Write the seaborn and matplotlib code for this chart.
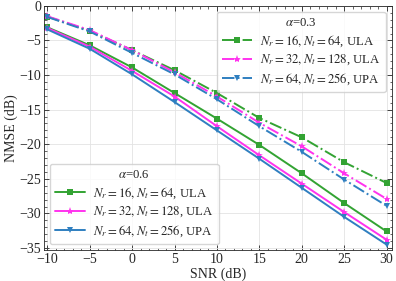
import numpy as np
import pandas as pd
import matplotlib
matplotlib.use("Agg")
import matplotlib.pyplot as plt
import seaborn as sns

snr = [-10, -5, 0, 5, 10, 15, 20, 25, 30]
labels = [r"$N_r = 16, N_t = 64$, ULA", r"$N_r = 32, N_t = 128$, ULA", r"$N_r = 64, N_t = 256$, UPA"]

# alpha = 0.3 (dash-dot)
a03_16 = [-1.55, -3.6, -6.4, -9.3, -12.6, -16.2, -19.0, -22.6, -25.6]
a03_32 = [-1.5, -3.5, -6.4, -9.6, -13.1, -16.9, -20.3, -24.2, -27.9]
a03_64 = [-1.6, -3.7, -6.8, -9.9, -13.5, -17.4, -21.1, -25.1, -28.9]
# alpha = 0.6 (solid)
a06_16 = [-3.1, -5.7, -8.9, -12.6, -16.3, -20.1, -24.2, -28.5, -32.6]
a06_32 = [-3.2, -5.9, -9.4, -13.1, -17.4, -21.6, -25.7, -29.8, -33.8]
a06_64 = [-3.4, -6.2, -9.9, -13.9, -18.0, -22.1, -26.3, -30.5, -34.5]

colors = ["#33a333", "#ff33ee", "#2f7fc0"]
markers = ["s", "*", "v"]

sns.set_style("ticks")
plt.rcParams["font.family"] = ["Liberation Serif", "DejaVu Serif"]
plt.rcParams["mathtext.fontset"] = "stix"
plt.rcParams["font.size"] = 10

fig = plt.figure(figsize=(3.96, 2.81), dpi=100)
ax = fig.add_axes([0.111, 0.11, 0.878, 0.869])

for vals, c, m, lab in zip([a03_16, a03_32, a03_64], colors, markers, labels):
    sns.lineplot(x=snr, y=vals, ax=ax, color=c, marker=m, linestyle="-.",
                 markersize=5 if m != "*" else 6, markeredgewidth=0, linewidth=1.4, label=lab)
for vals, c, m, lab in zip([a06_16, a06_32, a06_64], colors, markers, labels):
    sns.lineplot(x=snr, y=vals, ax=ax, color=c, marker=m, linestyle="-",
                 markersize=5 if m != "*" else 6, markeredgewidth=0, linewidth=1.4, label=lab)

handles, labs = ax.get_legend_handles_labels()
ax.get_legend().remove()
leg_kw = dict(fontsize=9.2, title_fontsize=9.2, handlelength=2.4, fancybox=True,
              borderpad=0.4, labelspacing=0.33, handletextpad=0.6, borderaxespad=0.45)
leg1 = ax.legend(handles[:3], labs[:3], title=r"$\alpha$=0.3", loc="upper right", **leg_kw)
ax.add_artist(leg1)
ax.legend(handles[3:], labs[3:], title=r"$\alpha$=0.6", loc="lower left", **leg_kw)

ax.set_xlim(-10.4, 30.6)
ax.set_ylim(-35.3, 0)
ax.set_xticks(range(-10, 31, 5))
ax.set_yticks(range(-35, 1, 5))
ax.minorticks_on()
ax.tick_params(which="both", direction="in", top=True, right=True, labelsize=10)
ax.tick_params(which="major", length=3.5, width=0.6, pad=2)
ax.tick_params(which="minor", length=1.8, width=0.5)
ax.grid(True, which="major", color="#e3e3e3", linestyle="-", linewidth=0.6)
for s in ax.spines.values():
    s.set_linewidth(0.6)
ax.set_xlabel("SNR (dB)", labelpad=1)
ax.set_ylabel("NMSE (dB)", labelpad=1)

fig.savefig("out.png", dpi=100)
